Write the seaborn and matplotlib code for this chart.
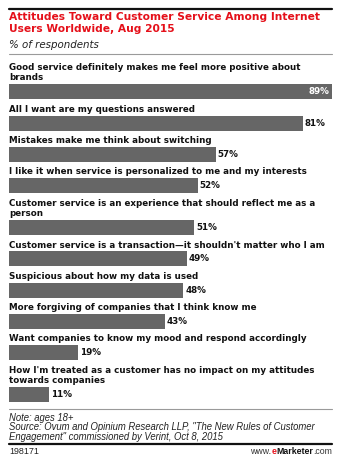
import matplotlib
matplotlib.use("Agg")
import matplotlib.pyplot as plt
import seaborn as sns
import pandas as pd
from matplotlib.lines import Line2D

# --- data -------------------------------------------------------------
statements = [
    "Good service definitely makes me feel more positive about\nbrands",
    "All I want are my questions answered",
    "Mistakes make me think about switching",
    "I like it when service is personalized to me and my interests",
    "Customer service is an experience that should reflect me as a\nperson",
    "Customer service is a transaction\u2014it shouldn't matter who I am",
    "Suspicious about how my data is used",
    "More forgiving of companies that I think know me",
    "Want companies to know my mood and respond accordingly",
    "How I'm treated as a customer has no impact on my attitudes\ntowards companies",
]
pct = [89, 81, 57, 52, 51, 49, 48, 43, 19, 11]

title = "Attitudes Toward Customer Service Among Internet\nUsers Worldwide, Aug 2015"
subtitle = "% of respondents"
note = "Note: ages 18+"
source = ("Source: Ovum and Opinium Research LLP, \"The New Rules of Customer\n"
          "Engagement\" commissioned by Verint, Oct 8, 2015")
chart_id = "198171"

# --- figure geometry (pixels) -----------------------------------------
W, H, DPI = 341, 466, 100
LEFT, RIGHT = 9, 332
AX_TOP, AX_BOT = 50, 410
LINE_H = 10.5      # height of one label line
ROW_GAP = 20.8     # bar plus padding below the labels
BAR_H = 15

sns.set_theme(style="white")
plt.rcParams["font.family"] = ["DejaVu Sans"]

fig = plt.figure(figsize=(W / DPI, H / DPI), dpi=DPI)
fig.patch.set_facecolor("white")


def fx(px):
    return px / W


def fy(py):
    return 1 - py / H


ax = fig.add_axes([fx(LEFT), fy(AX_BOT), fx(RIGHT - LEFT), (AX_BOT - AX_TOP) / H])

# vertical position of each bar: every row reserves room for its label lines
n_lines = [s.count("\n") + 1 for s in statements]
centers = []
acc = 0.0
for n in n_lines:
    acc += ROW_GAP + LINE_H * n
    centers.append(acc)

df = pd.DataFrame({"statement": statements, "pct": pct, "pos": centers})

min_step = min(b - a for a, b in zip(centers, centers[1:]))
sns.barplot(data=df, x="pct", y="pos", orient="h", native_scale=True,
            color="#666666", saturation=1, width=BAR_H / min_step,
            edgecolor="none", ax=ax)

ax.set_xlim(0, max(pct))
ax.set_ylim(AX_BOT - AX_TOP, 0)
ax.set_axis_off()

FS = 6.3
label_kw = dict(fontsize=FS, fontweight="bold", color="#111111")
for (s, v, c, n) in zip(statements, pct, centers, n_lines):
    for k, line in enumerate(s.split("\n")):
        y = c - 13.8 - LINE_H * (n - 1 - k)
        ax.text(0, y, line, ha="left", va="center", **label_kw)
    if v == max(pct):
        ax.annotate(f"{v}%", (v, c), xytext=(-3, 0), textcoords="offset pixels",
                    ha="right", va="center", fontsize=FS, fontweight="bold",
                    color="white")
    else:
        ax.annotate(f"{v}%", (v, c), xytext=(2, 0), textcoords="offset pixels",
                    ha="left", va="center", fontsize=FS, fontweight="bold",
                    color="#111111")

# --- header ---------------------------------------------------------------
def hline(py, color, lw):
    fig.add_artist(Line2D([fx(LEFT), fx(RIGHT)], [fy(py), fy(py)],
                          color=color, lw=lw, transform=fig.transFigure))


hline(9, "#111111", 1.6)
fig.text(fx(LEFT), fy(12), title, ha="left", va="top", color="#e5101a",
         fontsize=7.7, fontweight="bold", linespacing=1.22)
fig.text(fx(LEFT), fy(44.5), subtitle, ha="left", va="center", color="#222222",
         fontsize=7.4, fontstyle="italic")
hline(54, "#9a9a9a", 0.8)

# --- footer ---------------------------------------------------------------
hline(409, "#9a9a9a", 0.8)
foot_kw = dict(family=["Liberation Sans", "DejaVu Sans"], fontstyle="italic",
               color="#222222", fontsize=6.85)
fig.text(fx(LEFT), fy(418), note, ha="left", va="center", **foot_kw)
fig.text(fx(LEFT), fy(422.5), source, ha="left", va="top", linespacing=1.0,
         **foot_kw)
hline(444, "#111111", 1.6)
fig.text(fx(LEFT), fy(451), chart_id, ha="left", va="center",
         family=["Liberation Sans", "DejaVu Sans"], fontsize=6.4, color="#222222")

# www.eMarketer.com, assembled right to left
brand_kw = dict(family=["Liberation Sans", "DejaVu Sans"], fontsize=6.3)
t_com = fig.text(fx(RIGHT), fy(454), ".com", ha="right", va="baseline",
                 color="#333333", **brand_kw)
t_mk = plt.annotate("Marketer", xy=(0, 0), xycoords=t_com, ha="right",
                    va="bottom", color="#111111", fontweight="bold", **brand_kw)
t_e = plt.annotate("e", xy=(0, 0), xycoords=t_mk, ha="right", va="bottom",
                   color="#e5101a", fontweight="bold", **brand_kw)
plt.annotate("www.", xy=(0, 0), xycoords=t_e, ha="right", va="bottom",
             color="#333333", **brand_kw)

fig.savefig("out.png", dpi=DPI, facecolor="white")
